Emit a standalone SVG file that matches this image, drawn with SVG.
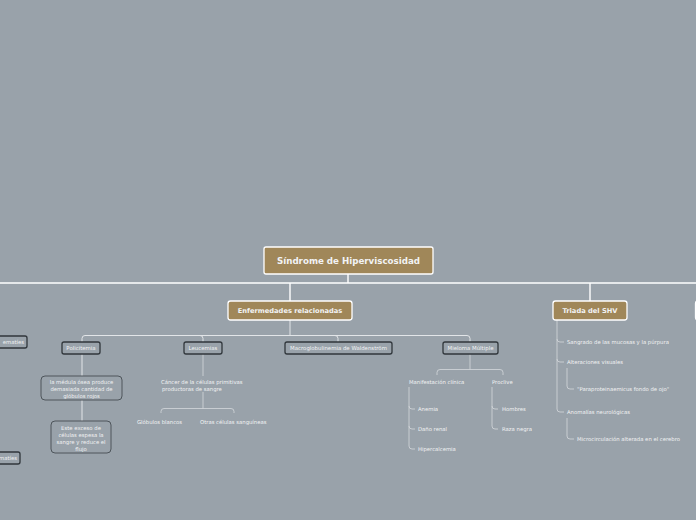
<svg xmlns="http://www.w3.org/2000/svg" width="696" height="520" viewBox="0 0 696 520">
<style>
text{font-family:"DejaVu Sans","Liberation Sans",sans-serif;fill:#f2f3f4}
.main{fill:#a08759;stroke:#ffffff;stroke-width:1.3}
.big{font-weight:bold;font-size:8.7px;text-anchor:middle}
.mid{font-weight:bold;font-size:6.7px;text-anchor:middle}
.n2{fill:#99a2aa;stroke:#30363b;stroke-width:1.3}
.l2{font-size:5.4px;text-anchor:middle}
.tb{fill:#99a2aa;stroke:#4e555b;stroke-width:1}
.s{font-size:5.3px}
.c{font-size:5.3px;text-anchor:middle}
.w{fill:none;stroke:#ffffff;stroke-width:1.4}
.k{fill:none;stroke:#e2e5e8;stroke-width:1}
.t{fill:none;stroke:#d4d8dc;stroke-width:0.8}
</style>
<rect width="696" height="520" fill="#99a2aa"/>
<g id="connectors">
<path class="w" d="M0,283 H696"/>
<path class="w" d="M348,274 V283"/>
<path class="w" d="M290,283 V301"/>
<path class="w" d="M590,283 V301"/>
<path class="k" d="M290,320 V335.5"/>
<path class="k" d="M85,335.5 H467"/>
<path class="k" d="M85,335.5 Q82,335.5 82,338.5 V342"/>
<path class="k" d="M200,335.5 Q203,335.5 203,338.5 V342"/>
<path class="k" d="M335,335.5 Q338,335.5 338,338.5 V342"/>
<path class="k" d="M467,335.5 Q470,335.5 470,338.5 V342"/>
<path class="k" d="M82,354 V376"/>
<path class="k" d="M82,400 V421"/>
<path class="t" d="M203,354 V376"/>
<path class="t" d="M203,392 V408.5"/>
<path class="t" d="M164,408.5 H231 Q234,408.5 234,411.5 V413 M164,408.5 Q161,408.5 161,411.5 V413"/>
<path class="t" d="M470,354 V369.5"/>
<path class="t" d="M440,369.5 H500 Q503,369.5 503,372.5 V375 M440,369.5 Q437,369.5 437,372.5 V375"/>
<path class="t" d="M409,387 V446 Q409,449 412,449 H415 M409,406 Q409,409 412,409 H415 M409,426 Q409,429 412,429 H415"/>
<path class="t" d="M492,387 V426 Q492,429 495,429 H498 M492,406 Q492,409 495,409 H498"/>
<path class="t" d="M557,320 V409 Q557,412 560,412 H564 M557,339 Q557,342 560,342 H564 M557,359 Q557,362 560,362 H564"/>
<path class="t" d="M567,368 V386 Q567,389 570,389 H574"/>
<path class="t" d="M567,418 V436 Q567,439 570,439 H574"/>
</g>
<g id="root">
<rect class="main" x="264" y="247" width="169" height="27" rx="2"/>
<text class="big" x="348.5" y="264.2">Síndrome de Hiperviscosidad</text>
</g>
<g id="enfermedades">
<rect class="main" x="228" y="301" width="124" height="19" rx="2.5"/>
<text class="mid" x="290" y="313">Enfermedades relacionadas</text>
</g>
<g id="triada">
<rect class="main" x="553" y="301" width="74" height="19" rx="2.5"/>
<text class="mid" x="590" y="313">Triada del SHV</text>
</g>
<g id="right-node">
<rect class="main" x="695.5" y="301" width="40" height="19" rx="2.5"/>
</g>
<g id="left-node-1">
<rect class="n2" x="-10" y="336" width="37" height="12" rx="2"/>
<text class="s" x="24" y="343.8" text-anchor="end">ematíes</text>
</g>
<g id="left-node-2">
<rect class="n2" x="-10" y="452" width="30" height="12" rx="2"/>
<text class="s" x="17" y="459.8" text-anchor="end">matíes</text>
</g>
<g id="policitemia">
<rect class="n2" x="62" y="342" width="38" height="12" rx="2"/>
<text class="l2" x="81" y="350">Policitemia</text>
</g>
<g id="leucemias">
<rect class="n2" x="184" y="342" width="38" height="12" rx="2"/>
<text class="l2" x="203" y="350">Leucemias</text>
</g>
<g id="macroglobulinemia">
<rect class="n2" x="285" y="342" width="107" height="12" rx="2"/>
<text class="l2" x="338.5" y="350">Macroglobulinemia de Waldenström</text>
</g>
<g id="mieloma">
<rect class="n2" x="443" y="342" width="55" height="12" rx="2"/>
<text class="l2" x="470.5" y="350">Mieloma Múltiple</text>
</g>
<g id="medula">
<rect class="tb" x="41" y="376" width="81" height="24" rx="4"/>
<text class="c" x="81.5" y="383.8">la médula ósea produce</text>
<text class="c" x="81.5" y="390.8">demasiada cantidad de</text>
<text class="c" x="81.5" y="397.8">glóbulos rojos</text>
</g>
<g id="exceso">
<rect class="tb" x="51" y="421" width="60" height="32" rx="4"/>
<text class="c" x="81" y="430.3">Este exceso de</text>
<text class="c" x="81" y="437.3">células espesa la</text>
<text class="c" x="81" y="444.3">sangre y reduce el</text>
<text class="c" x="81" y="451.3">flujo</text>
</g>
<g id="cancer">
<text class="s" x="161" y="383.8">Cáncer de la células primitivas</text>
<text class="s" x="162" y="390.8">productoras de sangre</text>
</g>
<g id="globulos-blancos"><text class="s" x="137" y="423.8">Glóbulos blancos</text></g>
<g id="otras"><text class="s" x="200" y="423.8">Otras células sanguíneas</text></g>
<g id="manifestacion"><text class="s" x="409" y="383.8">Manifestación clínica</text></g>
<g id="proclive"><text class="s" x="492" y="383.8">Proclive</text></g>
<g id="anemia"><text class="s" x="418" y="410.8">Anemia</text></g>
<g id="dano"><text class="s" x="418" y="430.8">Daño renal</text></g>
<g id="hipercalcemia"><text class="s" x="418" y="450.8">Hipercalcemia</text></g>
<g id="hombres"><text class="s" x="502" y="410.8">Hombres</text></g>
<g id="raza"><text class="s" x="502" y="430.8">Raza negra</text></g>
<g id="sangrado"><text class="s" x="567" y="343.8">Sangrado de las mucosas y la púrpura</text></g>
<g id="alteraciones"><text class="s" x="567" y="363.8">Alteraciones visuales</text></g>
<g id="fondo"><text class="s" x="577" y="390.8">"Paraproteinaemicus fondo de ojo"</text></g>
<g id="anomalias"><text class="s" x="567" y="413.8">Anomalías neurológicas</text></g>
<g id="microcirculacion"><text class="s" x="577" y="440.8">Microcirculación alterada en el cerebro</text></g>
</svg>
